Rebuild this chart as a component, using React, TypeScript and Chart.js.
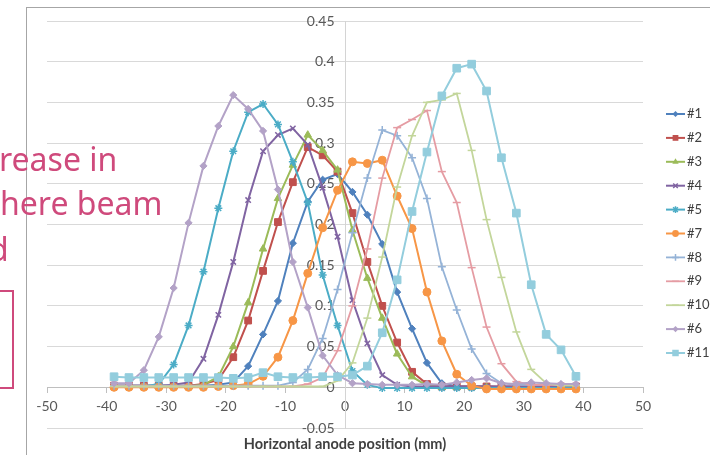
import React, { useEffect, useRef } from 'react';
import { Chart, registerables } from 'chart.js';

Chart.register(...registerables);

// ---------- data ----------
const X_POS = [
  -38.75, -36.25, -33.75, -31.25, -28.75, -26.25, -23.75, -21.25, -18.75, -16.25, -13.75,
  -11.25, -8.75, -6.25, -3.75, -1.25, 1.25, 3.75, 6.25, 8.75, 11.25, 13.75, 16.25, 18.75,
  21.25, 23.75, 26.25, 28.75, 31.25, 33.75, 36.25, 38.75,
];

const SERIES_LABELS = ['#1', '#2', '#3', '#4', '#5', '#7', '#8', '#9', '#10', '#6', '#11'];

const S1 = [0.002, 0.002, 0.002, 0.002, 0.002, 0.002, 0.002, 0.003, 0.006, 0.026, 0.065, 0.106, 0.177, 0.228, 0.255, 0.262, 0.24, 0.212, 0.176, 0.117, 0.072, 0.03, 0.005, 0.001, 0.001, 0.001, 0, 0, 0, 0, 0, 0];
const S2 = [0.002, 0.002, 0.002, 0.002, 0.002, 0.002, 0.004, 0.009, 0.037, 0.082, 0.143, 0.203, 0.252, 0.295, 0.285, 0.265, 0.214, 0.154, 0.1, 0.055, 0.019, 0.004, 0.001, 0.001, 0.001, 0.001, 0.001, 0.001, 0.001, 0.001, 0.001, 0.001];
const S3 = [0.001, 0.001, 0.001, 0.001, 0.001, 0.001, 0.003, 0.013, 0.05, 0.104, 0.17, 0.232, 0.273, 0.31, 0.291, 0.267, 0.193, 0.134, 0.085, 0.041, 0.013, 0.002, 0, 0, 0, 0, 0, 0, 0, 0, 0, 0];
const S4 = [0.002, 0.002, 0.002, 0.002, 0.003, 0.006, 0.035, 0.089, 0.154, 0.23, 0.29, 0.31, 0.318, 0.298, 0.245, 0.185, 0.107, 0.054, 0.015, 0.003, 0.001, 0.001, 0.001, 0.001, 0.001, 0.001, 0.001, 0.001, 0.001, 0.001, 0.001, 0.001];
const S5 = [0.001, 0.001, 0.001, 0.004, 0.028, 0.076, 0.142, 0.22, 0.29, 0.338, 0.348, 0.323, 0.277, 0.227, 0.138, 0.076, 0.02, 0.003, -0.001, -0.001, -0.001, -0.001, -0.001, -0.001, -0.001, -0.001, -0.001, -0.001, -0.001, -0.001, -0.001, -0.001];
const S7 = [0, 0, 0, 0, 0, 0, 0, 0.001, 0.002, 0.004, 0.0135, 0.037, 0.082, 0.14, 0.196, 0.242, 0.277, 0.275, 0.279, 0.235, 0.195, 0.117, 0.057, 0.016, 0.002, -0.002, -0.002, -0.002, -0.002, -0.002, -0.002, -0.002];
const S8 = [0.002, 0.002, 0.002, 0.002, 0.002, 0.002, 0.002, 0.002, 0.002, 0.002, 0.002, 0.002, 0.006, 0.022, 0.06, 0.12, 0.19, 0.257, 0.316, 0.309, 0.282, 0.232, 0.148, 0.095, 0.047, 0.017, 0.005, 0.003, 0.003, 0.003, 0.003, 0.003];
const S9 = [0.001, 0.001, 0.001, 0.001, 0.001, 0.001, 0.001, 0.001, 0.001, 0.001, 0.001, 0.001, 0.001, 0.004, 0.012, 0.045, 0.1, 0.17, 0.257, 0.319, 0.329, 0.34, 0.265, 0.227, 0.147, 0.074, 0.029, 0.007, 0.003, 0.003, 0.003, 0.003];
const S10 = [0.001, 0.001, 0.001, 0.001, 0.001, 0.001, 0.001, 0.001, 0.001, 0.001, 0.001, 0.001, 0.001, 0.001, 0.001, 0.008, 0.03, 0.085, 0.16, 0.246, 0.309, 0.35, 0.353, 0.361, 0.291, 0.206, 0.135, 0.068, 0.022, 0.005, 0.002, 0.002];
const S6 = [0.005, 0.005, 0.021, 0.062, 0.122, 0.202, 0.272, 0.321, 0.359, 0.342, 0.315, 0.243, 0.154, 0.098, 0.039, 0.015, 0.005, 0.004, 0.003, 0.003, 0.003, 0.004, 0.003, 0.006, 0.009, 0.011, 0.005, 0.004, 0.006, 0.005, 0.004, 0.004];
const S11 = [0.013, 0.012, 0.012, 0.012, 0.012, 0.012, 0.012, 0.012, 0.011, 0.012, 0.018, 0.013, 0.012, 0.012, 0.013, 0.013, 0.015, 0.026, 0.067, 0.132, 0.216, 0.289, 0.358, 0.392, 0.397, 0.364, 0.282, 0.214, 0.126, 0.065, 0.046, 0.0135];

const SERIES_VALUES = [S1, S2, S3, S4, S5, S7, S8, S9, S10, S6, S11];

const X_MIN = -50;
const X_MAX = 50;
const X_STEP = 10;
const Y_MIN = -0.05;
const Y_MAX = 0.45;
const Y_STEP = 0.05;
const X_TITLE = 'Horizontal anode position (mm)';

// ---------- styles ----------
const STYLES = [
  { color: '#4F81BD', marker: 'rectRot', r: 3.6, w: 2 },
  { color: '#C0504D', marker: 'rect', r: 4.8, w: 2 },
  { color: '#9BBB59', marker: 'triangle', r: 4.3, w: 2 },
  { color: '#8064A2', marker: 'crossRot', r: 3.8, w: 2 },
  { color: '#4BACC6', marker: 'star', r: 4, w: 2 },
  { color: '#F79646', marker: 'circle', r: 4, w: 2 },
  { color: '#95B3D7', marker: 'cross', r: 4, w: 1.8 },
  { color: '#E59CA3', marker: 'line', r: 4, w: 1.8 },
  { color: '#C3D69B', marker: 'line', r: 4, w: 1.8 },
  { color: '#B3A2C7', marker: 'rectRot', r: 3.6, w: 2 },
  { color: '#93CDDD', marker: 'rect', r: 5.4, w: 2 },
];

const FONT = 'Lato';

function drawMarker(ctx: CanvasRenderingContext2D, style: string, x: number, y: number, r: number, color: string) {
  ctx.save();
  ctx.fillStyle = color;
  ctx.strokeStyle = color;
  ctx.lineWidth = 1.5;
  ctx.beginPath();
  const s = Math.SQRT1_2 * r;
  switch (style) {
    case 'circle':
      ctx.arc(x, y, r, 0, Math.PI * 2);
      ctx.fill();
      break;
    case 'rect':
      ctx.rect(x - s, y - s, 2 * s, 2 * s);
      ctx.fill();
      break;
    case 'rectRot':
      ctx.moveTo(x, y - r);
      ctx.lineTo(x + r, y);
      ctx.lineTo(x, y + r);
      ctx.lineTo(x - r, y);
      ctx.closePath();
      ctx.fill();
      break;
    case 'triangle':
      ctx.moveTo(x, y - r);
      ctx.lineTo(x + r * 0.866, y + r * 0.5);
      ctx.lineTo(x - r * 0.866, y + r * 0.5);
      ctx.closePath();
      ctx.fill();
      break;
    case 'cross':
      ctx.moveTo(x - r, y); ctx.lineTo(x + r, y);
      ctx.moveTo(x, y - r); ctx.lineTo(x, y + r);
      ctx.stroke();
      break;
    case 'crossRot':
      ctx.moveTo(x - s, y - s); ctx.lineTo(x + s, y + s);
      ctx.moveTo(x + s, y - s); ctx.lineTo(x - s, y + s);
      ctx.stroke();
      break;
    case 'star':
      ctx.moveTo(x - s, y - s); ctx.lineTo(x + s, y + s);
      ctx.moveTo(x + s, y - s); ctx.lineTo(x - s, y + s);
      ctx.moveTo(x, y - r); ctx.lineTo(x, y + r);
      ctx.stroke();
      break;
    case 'line':
      ctx.moveTo(x - r, y); ctx.lineTo(x + r, y);
      ctx.stroke();
      break;
  }
  ctx.restore();
}

const sideLegend = {
  id: 'sideLegend',
  afterDraw(chart: any) {
    const ctx: CanvasRenderingContext2D = chart.ctx;
    const area = chart.chartArea;
    const x0 = area.right + 23;
    const y0 = area.top + 93;
    const gap = 23.9;
    chart.data.datasets.forEach((ds: any, i: number) => {
      const y = y0 + i * gap;
      const st = STYLES[i];
      ctx.save();
      ctx.strokeStyle = st.color;
      ctx.lineWidth = st.w;
      ctx.beginPath();
      ctx.moveTo(x0, y);
      ctx.lineTo(x0 + 19, y);
      ctx.stroke();
      drawMarker(ctx, st.marker, x0 + 9.5, y, st.r * 0.85, st.color);
      ctx.fillStyle = '#404040';
      ctx.font = `13px ${FONT}`;
      ctx.textBaseline = 'middle';
      ctx.textAlign = 'left';
      ctx.fillText(ds.label, x0 + 21, y);
      ctx.restore();
    });
  },
};

export default function App() {
  const ref = useRef<HTMLCanvasElement | null>(null);

  useEffect(() => {
    if (!ref.current) return;
    const n = SERIES_LABELS.length;
    const datasets = SERIES_LABELS.map((label, i) => ({
      label,
      data: X_POS.map((x, j) => ({ x, y: SERIES_VALUES[i][j] })),
      borderColor: STYLES[i].color,
      backgroundColor: STYLES[i].color,
      borderWidth: STYLES[i].w,
      pointStyle: STYLES[i].marker,
      pointRadius: STYLES[i].r,
      pointBackgroundColor: STYLES[i].color,
      pointBorderColor: STYLES[i].color,
      pointBorderWidth: ['cross', 'crossRot', 'star', 'line'].includes(STYLES[i].marker) ? 1.5 : 1,
      tension: 0,
      fill: false,
      order: n - i,
    }));

    const chart = new Chart(ref.current, {
      type: 'line',
      data: { datasets },
      plugins: [sideLegend],
      options: {
        responsive: false,
        animation: false,
        devicePixelRatio: 1,
        layout: { padding: { left: 47, right: 67, top: 21, bottom: 27 } },
        plugins: {
          legend: { display: false },
          tooltip: { enabled: false },
        },
        scales: {
          x: {
            type: 'linear',
            min: X_MIN,
            max: X_MAX,
            position: { y: 0 } as any,
            ticks: {
              stepSize: X_STEP,
              color: '#595959',
              font: { family: FONT, size: 14 },
              padding: 6,
            },
            grid: {
              drawOnChartArea: false,
              drawTicks: true,
              tickLength: 5,
              color: '#BFBFBF',
            },
            border: { display: true, color: '#BFBFBF' },
            title: {
              display: true,
              text: X_TITLE,
              color: '#404040',
              font: { family: FONT, size: 14.5, weight: 'bold' },
              padding: { top: 15, bottom: 0 },
            },
          },
          y: {
            type: 'linear',
            min: Y_MIN,
            max: Y_MAX,
            position: { x: 0 } as any,
            ticks: {
              stepSize: Y_STEP,
              color: '#595959',
              font: { family: FONT, size: 14 },
              callback: (v: any) => `${Number(Number(v).toFixed(2))}\u2003`,
            },
            grid: { color: '#D9D9D9', drawTicks: false },
            border: { display: true, color: '#D4D4D4' },
          },
        },
      },
    });
    return () => chart.destroy();
  }, []);

  const pink = '#CF4A7C';
  const textStyle: React.CSSProperties = {
    position: 'absolute',
    fontFamily: '"Noto Sans", sans-serif',
    fontSize: 32,
    lineHeight: '45px',
    color: pink,
    whiteSpace: 'nowrap',
  };

  return (
    <div style={{ position: 'absolute', left: 0, top: 0, width: 710, height: 455, overflow: 'hidden', background: '#fff' }}>
      <div style={{ position: 'absolute', left: 26, top: 7, width: 800, height: 600, borderLeft: '1px solid #A6A6A6', borderTop: '1px solid #A6A6A6' }} />
      <canvas ref={ref} width={710} height={455} style={{ position: 'absolute', left: 0, top: 0, width: 710, height: 455 }} />
      <div style={{ ...textStyle, left: -1, top: 136 }}>rease in</div>
      <div style={{ ...textStyle, left: 0, top: 180 }}>here beam</div>
      <div style={{ ...textStyle, left: -11, top: 226 }}>d</div>
      <div style={{ position: 'absolute', left: -20, top: 290, width: 34, height: 99, boxSizing: 'border-box', border: `2px solid ${pink}` }} />
    </div>
  );
}
